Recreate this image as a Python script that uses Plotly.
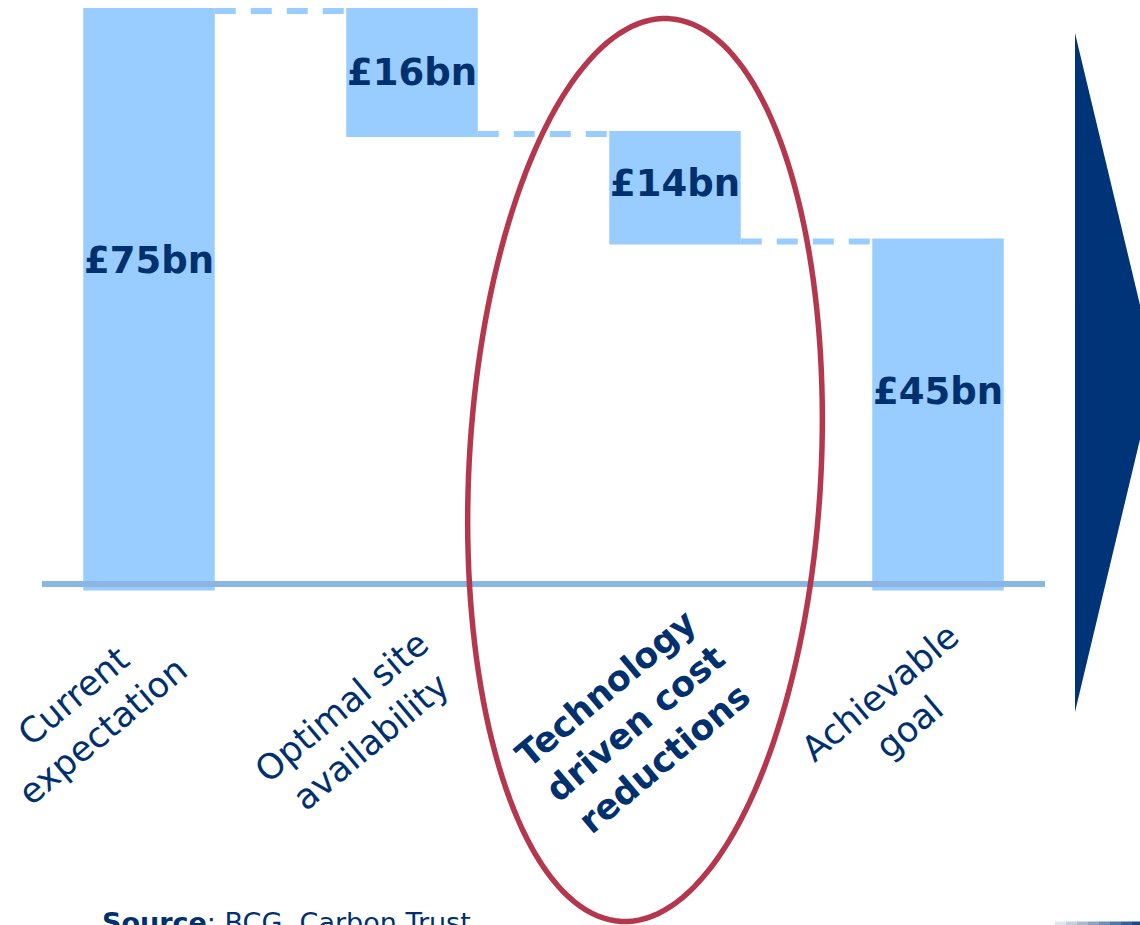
import math
import plotly.graph_objects as go

# Waterfall data (GBP bn)
categories = ["Current expectation", "Optimal site availability",
              "Technology driven cost reductions", "Achievable goal"]
measures = ["absolute", "relative", "relative", "total"]
changes = [75, -16, -14, None]
value_labels = ["£75bn", "£16bn", "£14bn", "£45bn"]
tick_labels = ["Current<br>expectation", "Optimal site<br>availability",
               "<b>Technology<br>driven cost<br>reductions</b>", "Achievable<br>goal"]

NAVY = "#00306e"
BAR = "#99ccff"
W, H = 1140, 925
ZERO_PX, PX_PER_BN = 587.5, 7.687
x_pos = list(range(len(categories)))

no_line = dict(width=0, color=BAR)
fig = go.Figure()
fig.add_trace(go.Waterfall(
    x=x_pos, y=changes, measure=measures,
    width=0.5,
    increasing=dict(marker=dict(color=BAR, line=no_line)),
    decreasing=dict(marker=dict(color=BAR, line=no_line)),
    totals=dict(marker=dict(color=BAR, line=no_line)),
    connector=dict(mode="between", line=dict(color=BAR, width=6, dash="21px,15px")),
    hoverinfo="skip", showlegend=False,
))

# cumulative levels to place value labels
levels = []
run = 0
for m, c in zip(measures, changes):
    if m == "absolute":
        lo, hi = 0, c
        run = c
    elif m == "relative":
        lo, hi = min(run, run + c), max(run, run + c)
        run += c
    else:
        lo, hi = 0, run
    levels.append((lo, hi))

label_shift = [39, 0, 4, 23]
annotations = []
for i, ((lo, hi), txt) in enumerate(zip(levels, value_labels)):
    annotations.append(dict(
        x=i, y=(lo + hi) / 2, xref="x", yref="y", text=f"<b>{txt}</b>",
        showarrow=False, yshift=label_shift[i],
        font=dict(family="DejaVu Sans", size=37, color=NAVY),
    ))

# rotated category labels (pixel centres)
label_centres = [(88, 714), (357, 724), (635, 723), (895, 710)]
label_sizes = [35, 35, 35, 35]
for (cx, cy), txt, fs in zip(label_centres, tick_labels, label_sizes):
    annotations.append(dict(
        x=cx / W, y=1 - cy / H, xref="paper", yref="paper", text=txt,
        showarrow=False, textangle=-40, align="center",
        xanchor="center", yanchor="middle",
        font=dict(family="DejaVu Sans", size=fs, color=NAVY),
    ))

annotations.append(dict(
    x=100 / W, y=1 - 905 / H, xref="paper", yref="paper",
    text="<b>Source</b>: BCG, Carbon Trust", showarrow=False,
    xanchor="left", yanchor="top",
    font=dict(family="DejaVu Sans", size=27, color=NAVY),
))

shapes = []
# baseline
shapes.append(dict(type="line", xref="x", yref="y", x0=-0.407, x1=3.407,
                   ysizemode="pixel", yanchor=0, y0=3.5, y1=3.5,
                   line=dict(color="#8ab6e4", width=6), layer="above"))

# tilted ellipse highlighting the technology step
def px(x, y):
    return f"{x / W:.5f},{1 - y / H:.5f}"

cx, cy, a, b, tilt = 645, 470, 452, 176, math.radians(3)
v = (math.sin(tilt), -math.cos(tilt))
w = (math.cos(tilt), math.sin(tilt))
pts = []
for k in range(181):
    t = 2 * math.pi * k / 180
    x = cx + a * math.cos(t) * v[0] + b * math.sin(t) * w[0]
    y = cy + a * math.cos(t) * v[1] + b * math.sin(t) * w[1]
    pts.append(px(x, y))
path = "M " + " L ".join(pts) + " Z"
shapes.append(dict(type="path", xref="paper", yref="paper", path=path,
                   line=dict(color="#b5374e", width=5.5), layer="above"))

# arrow on the right
arrow = "M " + px(1075, 33) + " L " + px(1156, 372) + " L " + px(1075, 712) + " Z"
shapes.append(dict(type="path", xref="paper", yref="paper", path=arrow,
                   fillcolor="#003478", line=dict(width=0)))

# thin fading strip at the bottom right
for i in range(8):
    x0 = 1055 + i * 11
    shapes.append(dict(type="rect", xref="paper", yref="paper",
                       x0=x0 / W, x1=(x0 + 11) / W, y0=0, y1=3.5 / H,
                       fillcolor="#003478", opacity=0.12 + i * 0.11,
                       line=dict(width=0)))

fig.update_layout(
    width=W, height=H,
    margin=dict(l=0, r=0, t=0, b=0),
    paper_bgcolor="white", plot_bgcolor="white",
    xaxis=dict(range=[-149 / 263, (W - 149) / 263], visible=False, fixedrange=True),
    yaxis=dict(range=[-(H - ZERO_PX) / PX_PER_BN, ZERO_PX / PX_PER_BN],
               visible=False, fixedrange=True),
    annotations=annotations, shapes=shapes,
    showlegend=False,
)

fig.write_html("out.html", config=dict(displayModeBar=False))
